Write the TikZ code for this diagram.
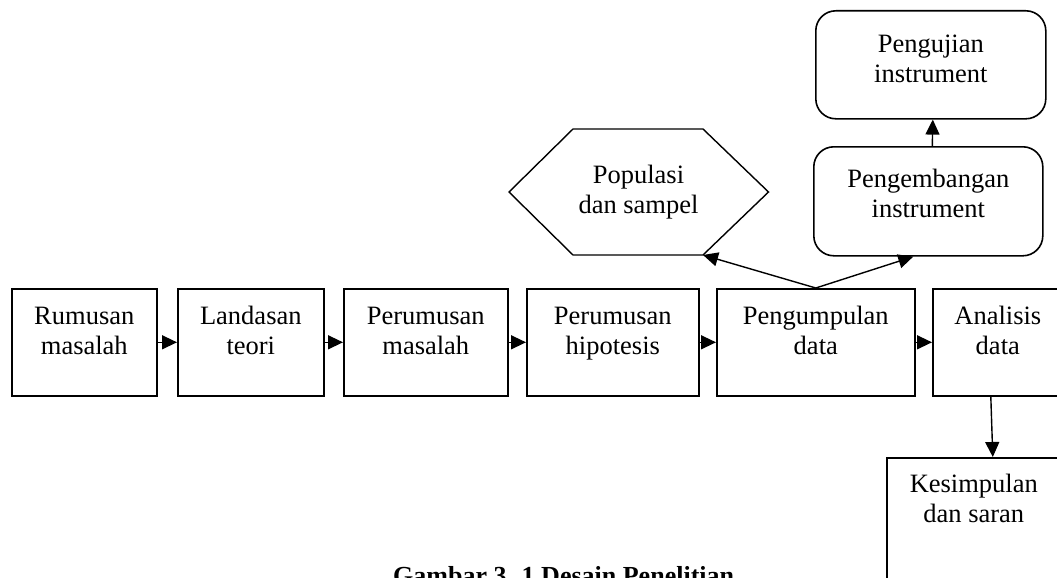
\documentclass[tikz,border=0pt]{standalone}
\usepackage{fontspec}
\setmainfont{Liberation Serif}
\usetikzlibrary{arrows.meta}
\begin{document}
\begin{tikzpicture}[
       x=1pt, y=-1pt,
       every node/.style={font=\fontsize{26.5}{30}\selectfont},
       kotak/.style={
         draw,
         line width=1.6pt,
         anchor=north west,
         align=center,
         inner sep=0pt,
         minimum height=107pt,
         text depth=23pt
       },
       kotakbulat/.style={
         kotak,
         rounded corners=20pt
       },
       panah/.style={
         line width=1.4pt,
         -{Triangle[length=15pt,width=14pt]}
       }
     ]

       \useasboundingbox (0,0) rectangle (1057,578);
       \clip (0,0) rectangle (1057,578);

       \node (b1) at (11,288) [kotak,minimum width=145pt]{Rumusan\\masalah};
       \node (b2) at (177,288) [kotak,minimum width=146pt]{Landasan\\teori};
       \node (b3) at (343,288) [kotak,minimum width=164pt]{Perumusan\\masalah};
       \node (b4) at (526,288) [kotak,minimum width=172pt]{Perumusan\\hipotesis};
       \node (b5) at (716,288) [kotak,minimum width=198pt]{Pengumpulan\\data};
       \node (b6) at (932,288) [kotak,minimum width=130pt]{Analisis\\data};

       \node (pb) at (813,146) [kotakbulat,minimum width=229pt,minimum height=109pt,text depth=15pt]{Pengembangan\\instrument};
       \node (pu) at (815,10) [kotakbulat,minimum width=230pt,minimum height=108pt,text depth=12pt]{Pengujian\\instrument};
       \node (ks) at (886,457) [kotak,minimum width=174pt,minimum height=140pt,text depth=58pt]{Kesimpulan\\dan saran};

       % segi enam populasi
       \node (pop) at (638.5,192) [align=center,inner sep=0pt]{Populasi\\dan sampel};
       \draw[line width=1.4pt] (pop) ++(-129.5,0) -- ++(64,63) -- ++(130,0) coordinate (popse)
             -- ++(65.5,-63) -- ++(-65.5,-63) -- ++(-130,0) -- cycle;

       \draw[panah] (b1.east) -- (b2.west);
       \draw[panah] (b2.east) -- (b3.west);
       \draw[panah] (b3.east) -- (b4.west);
       \draw[panah] (b4.east) -- (b5.west);
       \draw[panah] (b5.east) -- (b6.west);

       \draw[panah] (b5.north) -- (popse);
       \draw[panah] (b5.north) -- ([xshift=-15pt]pb.south);
       \draw[panah] ([xshift=4pt]pb.north) -- ([xshift=2pt]pu.south);
       \draw[panah] ([xshift=-7pt]b6.south) -- ([xshift=19pt]ks.north);

       \node (cap) at (393,584) [anchor=base west,inner sep=0pt,font=\bfseries\fontsize{26}{30}\selectfont]{Gambar 3. 1 Desain Penelitian};

\end{tikzpicture}
\end{document}
